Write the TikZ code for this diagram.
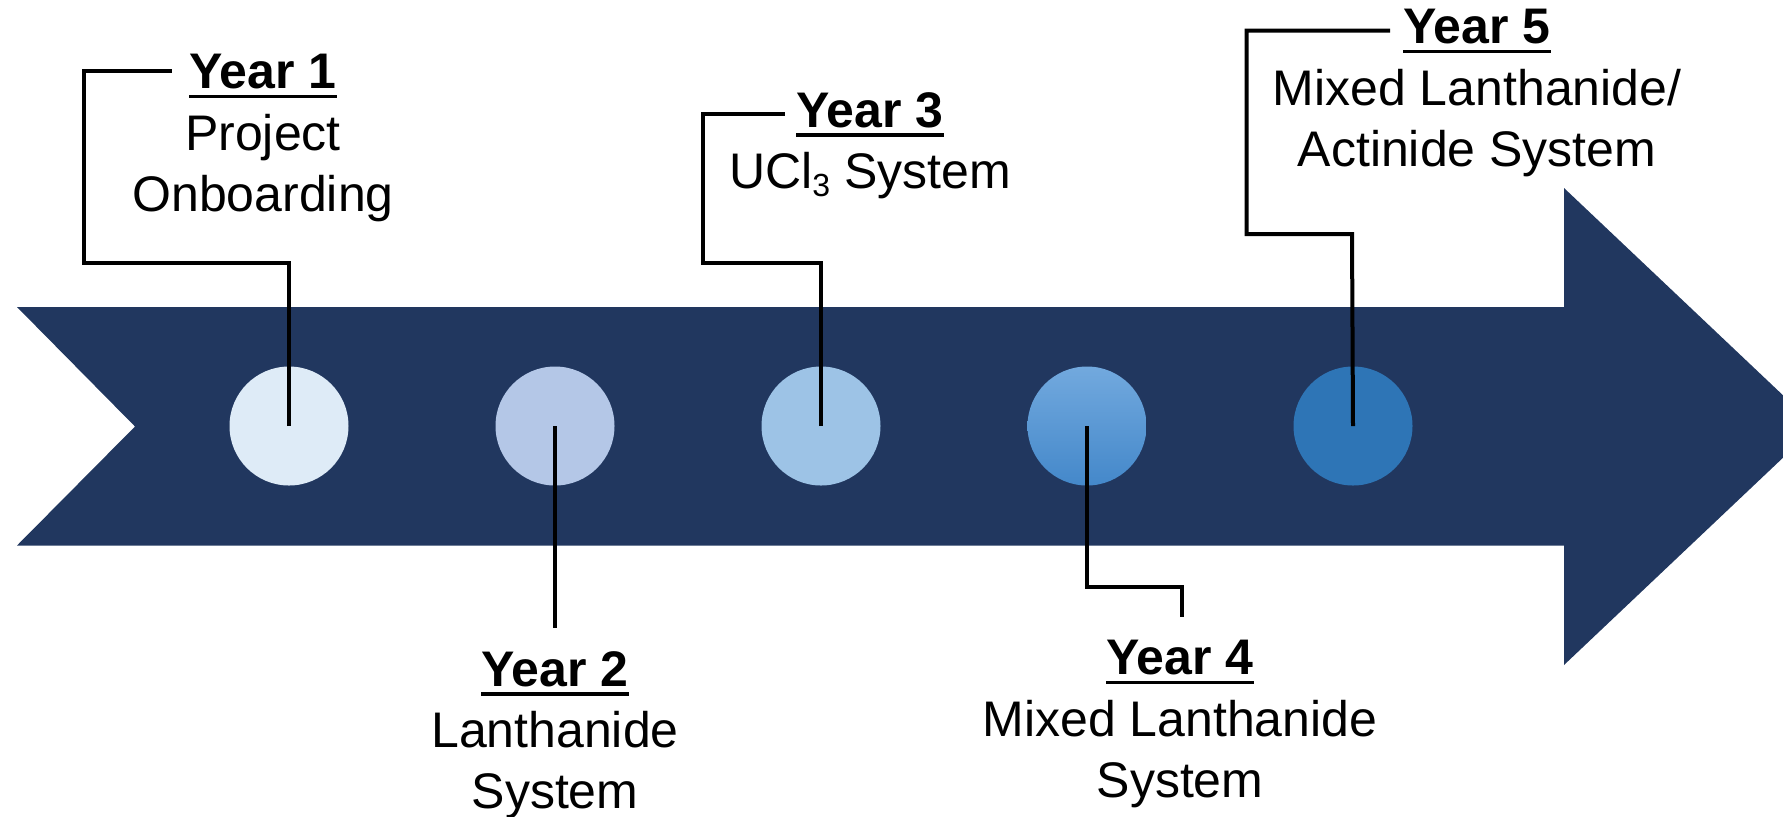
\documentclass[tikz,border=0pt]{standalone}
\usepackage{fontspec}
\setmainfont{Liberation Sans}
\usetikzlibrary{shapes.geometric}
\definecolor{navy}{HTML}{21375F}
\definecolor{cA}{HTML}{DEEBF7}
\definecolor{cB}{HTML}{B4C7E7}
\definecolor{cC}{HTML}{9DC3E6}
\definecolor{cDt}{HTML}{72A9DE}
\definecolor{cDb}{HTML}{4488CA}
\definecolor{cE}{HTML}{2E75B6}
\newcommand\yr[1]{\setbox0\hbox{\bfseries #1}\rlap{\rule[-4.6pt]{\wd0}{1.7pt}}\box0}
\newcommand\sub[1]{\raisebox{-4pt}{\fontsize{16}{16}\selectfont #1}}
\tikzset{
  dot/.style={circle, minimum size=59.5pt, inner sep=0pt, draw=none},
  lbl/.style={align=center, inner sep=0pt, anchor=north, font=\fontsize{25}{30.6}\selectfont},
  conn/.style={line width=2pt, black},
}
\begin{document}
\begin{tikzpicture}[x=0.5pt, y=-0.5pt]
\useasboundingbox (0,0) rectangle (1783,816);
\clip (0,0) rectangle (1783,816);
% arrow
\fill[navy] (17,307) -- (1564,307) -- (1564,188) -- (1816,426.5) -- (1564,665) -- (1564,545.5) -- (17,545.5) -- (135,426.5) -- cycle;
% circles
\node[dot, fill=cA] (c1) at (289,426) {};
\node[dot, fill=cB] (c2) at (555,426) {};
\node[dot, fill=cC] (c3) at (821,426) {};
\node[dot, top color=cDt, bottom color=cDb] (c4) at (1087,426) {};
\node[dot, fill=cE] (c5) at (1353,426) {};
% labels
\node[lbl] (l1) at (263,54) {\yr{Year 1}\\Project\\Onboarding};
\node[lbl] (l2) at (555,651) {\yr{Year 2}\\Lanthanide\\System};
\node[lbl] (l3) at (870,92) {\yr{Year 3}\\UCl\sub{3} System};
\node[lbl] (l4) at (1180,640) {\yr{Year 4}\\Mixed\ Lanthanide\\System};
\node[lbl] (l5) at (1477,9) {\yr{Year 5}\\Mixed\ Lanthanide/\\Actinide System};
% connector ends
\coordinate (e1) at (172,70.7);
\coordinate (e2) at (555,628);
\coordinate (e3) at (785,114);
\coordinate (e4) at (1181.5,617);
\coordinate (e5) at (1390,30.7);
% connectors
\draw[conn] (c1.center) -- (289,263) -- (84,263) -- (84,70.7) -- (e1);
\draw[conn] (c2.center) -- (e2);
\draw[conn] (c3.center) -- (821,263) -- (703,263) -- (703,114) -- (e3);
\draw[conn] (c4.center) -- (1087,586.7) -- (1181.5,586.7) -- (e4);
\draw[conn] (c5.center) -- (1352,234) -- (1246.5,234) -- (1246.5,30.7) -- (e5);
\end{tikzpicture}
\end{document}
